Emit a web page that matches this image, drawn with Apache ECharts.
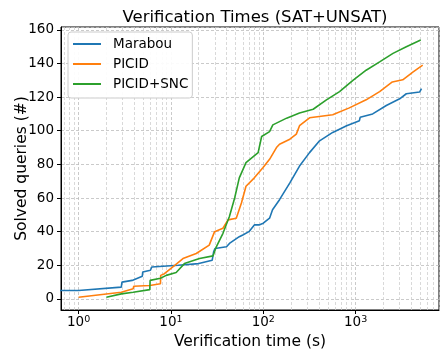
<!DOCTYPE html>
<html>
<head>
<meta charset="utf-8">
<script src="https://cdn.jsdelivr.net/npm/echarts@6/dist/echarts.min.js"></script>
<style>
  html, body { margin: 0; padding: 0; background: #fff; }
  #chart { width: 448px; height: 358px; }
</style>
</head>
<body>
<div id="chart"></div>
<script>
// [time (s), solved queries]
var marabou = [
    [0.1, 5], [1, 5], [1, 6], [2.9, 7], [2.95, 10], [3.8, 11], [3.9, 12], [4.9, 13.5], [4.95, 16],
    [6, 17], [6.2, 19], [12, 20], [20, 21], [21, 22], [28, 23], [29, 28], [30, 30], [40, 31],
    [43, 33], [55, 37], [60, 38], [70, 40], [80, 44], [90, 44], [100, 45], [117, 48], [126, 53],
    [150, 59], [194, 69], [247, 79], [317, 87], [407, 94], [565, 99], [800, 103], [1100, 106],
    [1120, 108], [1530, 110], [2150, 115], [3000, 119], [3540, 122], [4930, 123], [5170, 125]
]
var picid = [
    [1, 1], [2.9, 4], [2.95, 5], [3.9, 6], [3.95, 7.5], [5.9, 8], [7.7, 9], [7.75, 14], [8.5, 15],
    [11, 20], [13.5, 24], [18.8, 27], [26, 32], [29.7, 40], [36.6, 42], [41.5, 47], [51, 48],
    [58, 57], [65, 67], [80, 72], [99, 78], [117, 83], [139, 90], [150, 92], [194, 95], [228, 98],
    [247, 103], [317, 107.7], [565, 109.5], [855, 113.6], [1300, 118.4], [1820, 123.3],
    [2500, 129], [3240, 130.3], [4200, 135], [5330, 139]
]
var picidSnc = [
    [2, 1], [2.9, 3], [3.9, 4], [5.9, 5.5], [5.95, 11], [7.7, 12.3], [8.9, 14], [11.4, 15.7],
    [14, 21], [20.4, 24], [28.6, 25.6], [31, 31], [36.6, 39], [43, 49], [49, 60], [55, 72],
    [65, 81], [88, 87], [96, 96.6], [117, 99.5], [127, 103.5], [179, 107.5], [247, 110.5],
    [347, 112.8], [483, 118.4], [670, 123.3], [935, 130], [1300, 136], [1820, 141], [2540, 146],
    [3540, 150], [5070, 154]
]
var seriesNames = ['Marabou', 'PICID', 'PICID+SNC']
var seriesColors = ['#1f77b4', '#ff7f0e', '#2ca02c']
var xMin = 0.645, xMax = 8000

// minor log grid positions (2..9 x 10^n) inside the x range
var minorX = []
for (var n = -1; n <= 3; n++) {
    for (var k = 2; k <= 9; k++) {
        var v = k * Math.pow(10, n)
        if (v > xMin && v < xMax) minorX.push(v)
    }
}

var font = 'DejaVu Sans'
var chart = echarts.init(document.getElementById('chart'))

var lineSeries = [marabou, picid, picidSnc].map(function(d, i) {
    return {
        name: seriesNames[i],
        type: 'line',
        data: d,
        showSymbol: false,
        symbol: 'none',
        z: 3 + i,
        lineStyle: { color: seriesColors[i], width: 1.6 },
        itemStyle: { color: seriesColors[i] },
        animation: false
    }
})

// minor grid lines, kept under the curves and the legend
lineSeries.push({
    name: 'grid-minor',
    type: 'line',
    data: [],
    z: 1,
    silent: true,
    animation: false,
    markLine: {
        z: 1,
        silent: true,
        symbol: ['none', 'none'],
        label: { show: false },
        lineStyle: { color: '#cfcfcf', type: [3, 2], width: 0.8 },
        data: minorX.map(function(v) { return { xAxis: v } }),
        animation: false
    }
})

var option = {
    animation: false,
    title: {
        text: 'Verification Times (SAT+UNSAT)',
        left: 250,
        textAlign: 'center',
        top: 4,
        textStyle: { fontFamily: font, fontSize: 16.5, fontWeight: 'normal', color: '#000' }
    },
    grid: {
        left: 61, right: 9, top: 27, bottom: 48,
        outerBoundsMode: 'none',
        containLabel: false,
        show: true, borderColor: '#000', borderWidth: 1
    },
    legend: {
        data: seriesNames,
        orient: 'vertical',
        left: 68,
        top: 32,
        z: 10,
        icon: 'rect',
        itemWidth: 28,
        itemHeight: 2,
        itemGap: 4,
        padding: [4, 4, 6, 5],
        borderColor: '#cccccc',
        borderWidth: 1,
        borderRadius: 3,
        backgroundColor: 'rgba(255,255,255,0.92)',
        textStyle: { fontFamily: font, fontSize: 13.5, color: '#000', lineHeight: 16, padding: [0, 0, 0, 7] }
    },
    xAxis: {
        type: 'log',
        logBase: 10,
        min: xMin,
        max: xMax,
        name: 'Verification time (s)',
        nameLocation: 'middle',
        nameGap: 24,
        nameMoveOverlap: false,
        nameTextStyle: { fontFamily: font, fontSize: 15.5, color: '#000' },
        axisLine: { onZero: false, lineStyle: { color: '#000', width: 1 } },
        axisTick: { show: true, length: 4, lineStyle: { color: '#000' } },
        axisLabel: {
            showMinLabel: false,
            showMaxLabel: false,
            margin: 5,
            color: '#000',
            formatter: function(v) {
                var e = Math.round(Math.log10(v))
                return '{b|10}{s|' + e + '}'
            },
            rich: {
                b: { fontFamily: font, fontSize: 13.5, color: '#000' },
                s: { fontFamily: font, fontSize: 9.5, color: '#000', verticalAlign: 'top', lineHeight: 10 }
            }
        },
        splitLine: { show: true, lineStyle: { color: '#bdbdbd', type: [3, 2], width: 0.8 } }
    },
    yAxis: {
        type: 'value',
        min: -6.6,
        max: 161.7,
        splitNumber: 8,
        name: 'Solved queries (#)',
        nameLocation: 'middle',
        nameGap: 31,
        nameMoveOverlap: false,
        nameTextStyle: { fontFamily: font, fontSize: 15.5, color: '#000' },
        axisLine: { show: true, lineStyle: { color: '#000', width: 1 } },
        axisTick: { show: true, length: 4, lineStyle: { color: '#000' } },
        axisLabel: {
            showMinLabel: false,
            showMaxLabel: false,
            margin: 7,
            fontFamily: font,
            fontSize: 13.5,
            color: '#000'
        },
        splitLine: { show: true, lineStyle: { color: '#bdbdbd', type: [3, 2], width: 0.8 } }
    },
    series: lineSeries
}
chart.setOption(option)
</script>
</body>
</html>
